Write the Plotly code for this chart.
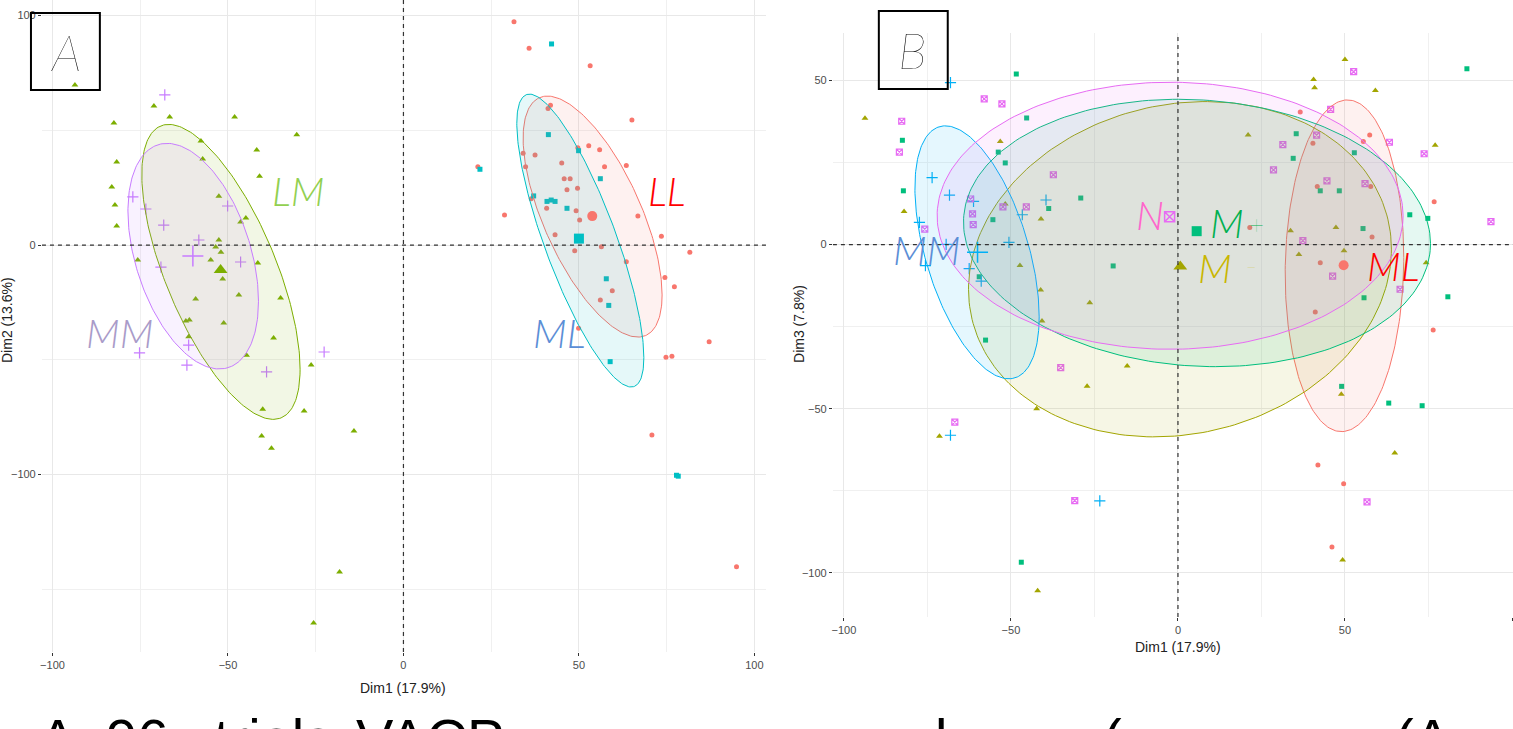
import numpy as np
import plotly.graph_objects as go

W_PX, H_PX = 1513, 729

# ---------------- Panel A data (Dim1 vs Dim2) ----------------
A_LL_x = [31.5, 35.8, 53.2, 65.1, 21.2, 28.8, 41.2, 41.9, 34.1, 37.5, 34.8, 49.7, 52.8, 55.9, 45.1, 57.3, 63.5, 45.8, 47.5, 46.6, 49.6, 36.4, 40.8, 49.2, 50.2, 66.8, 43.2, 73.5, 56.4, 48.8, 81.6, 63.5, 74.5, 77.2, 59.5, 56.1, 49.9, 87.1, 74.8, 76.5, 70.8, 94.9]
A_LL_y = [97.3, 85.7, 78.1, 54.5, 34.1, 13.1, 59.5, 60.9, 40.0, 39.2, 34.1, 42.4, 43.3, 41.5, 35.7, 34.1, 34.7, 28.9, 28.9, 24.1, 24.7, 20.2, 16.0, 14.9, 10.9, 12.6, 4.5, 3.8, -0.7, -2.5, -3.1, -7.3, -14.1, -18.2, -19.9, -24.0, -36.3, -42.1, -48.9, -48.4, -82.8, -140.2]
A_LM_x = [-93.6, -71.1, -66.6, -82.5, -48.1, -30.4, -57.7, -41.8, -57.2, -81.7, -41.0, -83.1, -82.2, -81.7, -52.6, -44.9, -46.4, -52.6, -53.5, -52.0, -54.9, -75.7, -41.5, -51.5, -46.9, -59.2, -35.0, -62.0, -61.0, -51.2, -37.0, -61.2, -44.7, -26.3, -40.1, -28.3, -14.1, -40.4, -37.6, -18.2, -25.6]
A_LM_y = [69.7, 60.6, 55.8, 53.2, 55.8, 48.0, 45.3, 41.4, 37.5, 36.2, 30.0, 25.3, 17.4, 8.3, 21.3, 11.8, 10.0, 2.2, -0.9, -3.1, -6.5, -6.5, -7.8, -14.8, -21.8, -23.5, -23.1, -33.1, -32.7, -34.0, -40.5, -40.0, -48.0, -52.3, -71.5, -72.3, -81.0, -83.2, -88.5, -142.5, -164.7]
A_ML_x = [42.2, 21.8, 41.3, 49.9, 56.1, 37.1, 40.9, 42.1, 43.2, 46.6, 57.8, 58.5, 58.9, 77.8, 78.3]
A_ML_y = [87.6, 33.0, 48.1, 41.1, 28.9, 21.4, 19.0, 19.6, 19.0, 16.0, -14.7, -26.3, -50.8, -100.3, -100.7]
A_MM_x = [-68.0, -77.1, -73.4, -68.3, -50.1, -58.3, -46.4, -69.1, -61.2, -75.2, -61.7, -39.0, -22.6]
A_MM_y = [65.4, 21.0, 15.7, 8.7, 17.0, 2.2, -7.4, -9.6, -43.6, -47.0, -52.3, -55.3, -46.6]
A_groups = ["LL", "LM", "ML", "MM"]
A_mean_x = [53.8, -52.1, 50.0, -60.0]
A_mean_y = [12.6, -10.9, 2.8, -4.8]
# ellipse parameters: centre, half-width, half-height, correlation
A_ell_cx = [53.9, -52.0, 50.4, -59.9]
A_ell_cy = [12.4, -11.7, 1.95, -4.85]
A_ell_w = [19.8, 22.55, 18.1, 18.6]
A_ell_h = [52.5, 64.25, 63.8, 49.15]
A_ell_r = [-0.65, -0.66, -0.80, -0.40]

# ---------------- Panel B data (Dim1 vs Dim3) ----------------
B_ML_x = [36.6, 57.4, 55.5, 40.4, 41.7, 57.7, 76.7, 21.5, 58.1, 42.6, 41.1, 76.4, 41.9, 49.6, 46.1]
B_ML_y = [40.4, 33.4, 31.4, 30.9, 17.7, 17.7, 13.1, 5.2, 2.3, -5.5, -20.5, -26.0, -67.2, -72.9, -92.2]
B_Mm_x = [-93.7, -82.0, -53.2, -51.7, -41.0, -47.3, -41.1, -26.4, -40.7, -15.2, -27.2, -42.3, -71.4, -42.0, 48.9, 64.9, 49.3, 50.0, 40.6, 40.9, 59.1, 21.0, 77.0, 33.7, 47.3, 36.2, 49.7, 74.3]
B_Mm_y = [38.5, 10.1, 31.4, 12.4, 7.8, -6.4, -13.8, -17.7, -23.3, -37.0, -43.2, -50.0, -58.4, -105.5, -45.6, -63.5, -96.1, 56.4, 50.3, 47.8, 47.0, 33.4, 30.3, 4.2, 5.2, -3.0, -1.9, -5.5]
B_Mp_x = [-48.4, -45.3, -82.5, -53.8, -51.7, -82.2, -29.1, -38.7, -55.4, -19.4, -59.5, -57.6, -46.9, 49.0, 63.1, 73.1, 86.5, 35.4, 52.8, 34.5, 42.6, 48.3, 69.4, 74.8, 55.4, 80.8, 55.7]
B_Mp_y = [52.0, 38.6, 31.8, 28.2, 24.9, 16.4, 14.2, 11.0, 7.6, -6.5, -9.8, -29.1, -96.8, -43.2, -48.3, -49.1, 53.6, 33.8, 28.0, 26.3, 16.4, 16.4, 9.1, 8.0, 4.9, -15.9, -16.2]
B_MM_x = [-68.1, -73.6, -68.4, -61.2, -39.5, -46.6, -77.4, -50.6, -69.4, -75.6, -62.5, -58.9, -68.1, -23.4]
B_MM_y = [49.4, 20.4, 15.1, 13.2, 13.6, 9.1, 6.8, 0.7, 0.1, -6.4, -7.3, -11.1, -58.1, -78.1]
B_N_x = [-82.7, -58.0, -52.7, -83.4, -37.3, -62.1, -61.5, -61.3, -52.4, -45.4, -75.8, -66.8, -35.1, -30.9, 56.6, 52.6, 45.7, 41.5, 31.4, 63.3, 73.7, 28.6, 44.6, 56.0, 93.7, 37.4, 46.3, 66.5]
B_N_y = [37.6, 44.4, 42.9, 28.2, 21.3, 13.9, 9.4, 6.1, 11.5, 11.5, 4.7, -54.1, -37.5, -78.0, -78.4, 52.7, 41.2, 33.4, 30.5, 31.2, 27.7, 22.8, 19.4, 18.6, 7.0, 1.2, -9.6, -13.6]
B_groups = ["ML", "M-", "M+", "MM", "N"]
B_mean_x = [49.6, 0.7, 5.6, -60.0, -2.5]
B_mean_y = [-6.3, -6.7, 4.1, -2.3, 8.5]
B_ell_cx = [49.85, 0.6, 5.7, -60.15, -2.35]
B_ell_cy = [-6.45, -7.5, 3.55, -2.35, 8.8]
B_ell_w = [17.75, 63.3, 69.9, 18.6, 69.75]
B_ell_h = [50.55, 51.1, 40.75, 38.55, 40.7]
B_ell_r = [0.05, 0.12, -0.08, -0.51, 0.0]

# caption fragments visible at the bottom edge
CAPTION_PARTS = ["A.", "96", "trials", "VACP", "l", "(", "(A"]
CAPTION_X = [35, 102, 210, 352, 932, 1100, 1393]

# ---------------- styles ----------------
A_colors = ["#F8766D", "#7CAE00", "#00BFC4", "#C77CFF"]
A_symbols = ["circle", "triangle-up", "square", "cross-thin-open"]
A_sizes = [5, 6, 5, 8]
A_msizes = [10, 12, 10, 15]
B_colors = ["#F8766D", "#A3A500", "#00BF7D", "#00B0F6", "#E76BF3"]
B_symbols = ["circle", "triangle-up", "square", "cross-thin-open", "square-x-open"]
B_sizes = [5, 6, 5, 8, 6]
B_msizes = [10, 12, 10, 15, 10]

A_pts = [(A_LL_x, A_LL_y), (A_LM_x, A_LM_y), (A_ML_x, A_ML_y), (A_MM_x, A_MM_y)]
B_pts = [(B_ML_x, B_ML_y), (B_Mm_x, B_Mm_y), (B_Mp_x, B_Mp_y), (B_MM_x, B_MM_y), (B_N_x, B_N_y)]


def rgba(hexc, a):
    h = hexc.lstrip("#")
    return "rgba(%d,%d,%d,%.2f)" % (int(h[0:2], 16), int(h[2:4], 16), int(h[4:6], 16), a)


def ellipse(cx, cy, w, h, r):
    t = np.linspace(0, 2 * np.pi, 241)
    phi = np.arccos(r)
    return cx + w * np.cos(t), cy + h * np.cos(t - phi)


fig = go.Figure()


def add_panel(pts, groups, colors, symbols, sizes, msizes, means_x, means_y,
              ecx, ecy, ew, eh, er, xa, ya):
    for (xs, ys), g, c, s, sz in zip(pts, groups, colors, symbols, sizes):
        open_sym = s.endswith("open")
        fig.add_trace(go.Scatter(
            x=xs, y=ys, mode="markers", name=g, xaxis=xa, yaxis=ya,
            marker=dict(symbol=s, size=sz, color=c,
                        line=dict(color=c, width=1.2 if open_sym else 0)),
            showlegend=False, hoverinfo="skip"))
    for i, g in enumerate(groups):
        ex, ey = ellipse(ecx[i], ecy[i], ew[i], eh[i], er[i])
        fig.add_trace(go.Scatter(
            x=ex, y=ey, mode="lines", xaxis=xa, yaxis=ya, fill="toself",
            fillcolor=rgba(colors[i], 0.10), line=dict(color=colors[i], width=1),
            showlegend=False, hoverinfo="skip"))
    for i, g in enumerate(groups):
        open_sym = symbols[i].endswith("open")
        fig.add_trace(go.Scatter(
            x=[means_x[i]], y=[means_y[i]], mode="markers", xaxis=xa, yaxis=ya,
            marker=dict(symbol=symbols[i], size=msizes[i], color=colors[i],
                        line=dict(color=colors[i], width=1.5 if open_sym else 0)),
            showlegend=False, hoverinfo="skip"))


add_panel(A_pts, A_groups, A_colors, A_symbols, A_sizes, A_msizes, A_mean_x, A_mean_y,
          A_ell_cx, A_ell_cy, A_ell_w, A_ell_h, A_ell_r, "x", "y")
add_panel(B_pts, B_groups, B_colors, B_symbols, B_sizes, B_msizes, B_mean_x, B_mean_y,
          B_ell_cx, B_ell_cy, B_ell_w, B_ell_h, B_ell_r, "x2", "y2")

TICKFONT = dict(family="Liberation Sans Narrow, Liberation Sans, Arial", size=11, color="#4D4D4D")
GRID = "#E8E8E8"
MINOR = dict(showgrid=True, gridcolor="#F0F0F0", gridwidth=1, ticks="")


def px(xp):
    return xp / W_PX


def py(yp):
    return 1 - yp / H_PX


axis_common = dict(showline=False, zeroline=False, ticks="outside", ticklen=3,
                   tickcolor="#333333", tickwidth=1, tickfont=TICKFONT,
                   showgrid=True, gridcolor=GRID, gridwidth=1)

fig.update_layout(
    width=W_PX, height=H_PX, margin=dict(l=0, r=0, t=0, b=0),
    paper_bgcolor="white", plot_bgcolor="white", showlegend=False,
    xaxis=dict(domain=[px(40), px(765)], range=[-103.0, 103.3], anchor="y",
               tick0=0, dtick=50, minor=dict(dtick=25, **MINOR), **axis_common),
    yaxis=dict(domain=[py(652), 1.0], range=[-177.3, 106.75], anchor="x",
               tick0=0, dtick=100, minor=dict(dtick=50, **MINOR), **axis_common),
    xaxis2=dict(domain=[px(832), 1.0], range=[-103.3, 100.3], anchor="y2",
                tick0=0, dtick=50, minor=dict(dtick=25, **MINOR), **axis_common),
    yaxis2=dict(domain=[py(617), py(33)], range=[-113.5, 64.5], anchor="x2",
                tick0=0, dtick=50, minor=dict(dtick=25, **MINOR), **axis_common),
)

# dashed reference lines at 0
shapes = []
for xr, yr in (("x", "y"), ("x2", "y2")):
    shapes.append(dict(type="line", xref=xr, yref=yr + " domain", x0=0, x1=0, y0=0, y1=1,
                       line=dict(color="#333333", width=1.2, dash="4px,4px"), layer="above"))
    shapes.append(dict(type="line", xref=xr + " domain", yref=yr, x0=0, x1=1, y0=0, y1=0,
                       line=dict(color="#333333", width=1.2, dash="4px,4px"), layer="above"))
# panel letter boxes
shapes.append(dict(type="rect", xref="paper", yref="paper", x0=px(29), x1=px(98),
                   y0=py(90), y1=py(13), line=dict(color="black", width=2), layer="above"))
shapes.append(dict(type="rect", xref="paper", yref="paper", x0=px(878), x1=px(947),
                   y0=py(89), y1=py(11), line=dict(color="black", width=2), layer="above"))
fig.update_layout(shapes=shapes)

AXT = "Liberation Sans Narrow, Liberation Sans, Arial"
LABFONT = "Lato, Open Sans, sans-serif"
ann = []


def add_text(text, xp, yp, size, color, family=LABFONT, weight=300, style="italic",
             angle=0, xanchor="center", yanchor="middle"):
    ann.append(dict(text=text, x=px(xp), y=py(yp), xref="paper", yref="paper",
                    showarrow=False, textangle=angle, xanchor=xanchor, yanchor=yanchor,
                    font=dict(family=family, size=size, color=color, weight=weight, style=style)))


# axis titles
add_text("Dim1 (17.9%)", 402, 688, 14, "#222222", family=AXT, weight=400, style="normal")
add_text("Dim2 (13.6%)", 5, 320, 14, "#222222", family=AXT, weight=400, style="normal", angle=-90)
add_text("Dim1 (17.9%)", 1178, 647, 14, "#222222", family=AXT, weight=400, style="normal")
add_text("Dim3 (7.8%)", 798, 324, 14, "#222222", family=AXT, weight=400, style="normal", angle=-90)

# panel letters
add_text("A", 64, 52, 50, "black", weight=200)
add_text("B", 912, 50, 50, "black", weight=200)

# group labels panel A
add_text("LM", 296, 191, 40, "#92D050")
add_text("LL", 665, 191, 40, "#FF0000")
add_text("MM", 118, 333, 40, "#A99BC9")
add_text("ML", 558, 333, 40, "#5B8ED6")
# group labels panel B
add_text("MM", 926, 250, 40, "#5B8ED6")
add_text("N", 1150, 215, 40, "#FF66CC")
add_text("M", 1227, 223, 40, "#00B050")
add_text("+", 1256, 224, 26, "#00B050", weight=200, style="normal")
add_text("M", 1215, 268, 40, "#C9B600")
add_text("\u2212", 1251, 267, 18, "#C9B600", weight=200, style="normal")
add_text("ML", 1393, 266, 40, "#FF0000")

# caption, only its top is visible at the bottom edge of the picture
CAPF = "Liberation Sans, Arial, sans-serif"
for part, xp in zip(CAPTION_PARTS, CAPTION_X):
    add_text(part, xp, 705, 56, "black", family=CAPF, weight=400, style="normal",
             xanchor="left", yanchor="top")

fig.update_layout(annotations=ann)

fig.write_html(
    "out.html",
    config={"displayModeBar": False},
    post_script="document.body.style.margin='0';document.body.style.overflow='hidden';",
)
